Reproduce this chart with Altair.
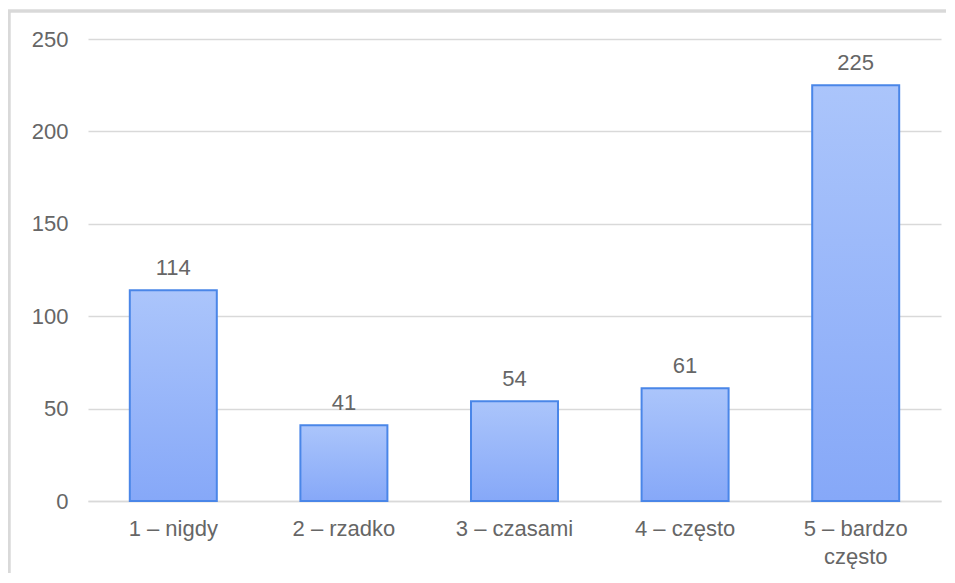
import altair as alt
import pandas as pd

categories = ["1 – nigdy", "2 – rzadko", "3 – czasami", "4 – często", "5 – bardzo\nczęsto"]
values = [114, 41, 54, 61, 225]

df = pd.DataFrame({"cat": categories, "val": values})

FONT = "Liberation Sans"
GRAY = "#666666"
FS = 22

gradient = alt.Gradient(
    gradient="linear",
    stops=[alt.GradientStop(color="#abc5fb", offset=0),
           alt.GradientStop(color="#86a8f8", offset=1)],
    x1=0, x2=0, y1=0, y2=1,
)

x = alt.X("cat:N", sort=categories, title=None,
          scale=alt.Scale(paddingInner=0.49, paddingOuter=0.245),
          axis=alt.Axis(labelExpr="split(datum.label, '\\n')", labelAngle=0,
                        labelFont=FONT, labelFontSize=FS, labelColor=GRAY,
                        labelPadding=17, labelLineHeight=28,
                        domain=True, domainColor="#d9d9d9", domainWidth=1.5,
                        ticks=False, grid=False))
y = alt.Y("val:Q", title=None,
          scale=alt.Scale(domain=[0, 250], nice=False),
          axis=alt.Axis(values=[0, 50, 100, 150, 200, 250],
                        labelFont=FONT, labelFontSize=FS, labelColor=GRAY,
                        labelPadding=20, domain=False, ticks=False,
                        grid=True, gridColor="#d9d9d9", gridWidth=1.5))

bars = alt.Chart(df).mark_bar(fill=gradient, stroke="#4a86e8", strokeWidth=2).encode(x=x, y=y)
labels = alt.Chart(df).mark_text(dy=-10, baseline="bottom", font=FONT, fontSize=FS,
                                 color=GRAY).encode(x=x, y=y, text="val:Q")

frame = alt.Chart(df).mark_rect(fill=None, stroke="#d9d9d9", strokeWidth=2.5, clip=False).encode(
    x=alt.value(-79), x2=alt.value(900), y=alt.value(-28), y2=alt.value(600))

chart = alt.layer(frame, bars, labels).properties(
    width=853, height=462,
    autosize=alt.AutoSizeParams(type="none"),
    padding={"left": 80, "top": 31, "right": 5, "bottom": 72},
).configure_view(stroke=None)

chart.save("out.html", embed_options={"renderer": "svg", "actions": False})
